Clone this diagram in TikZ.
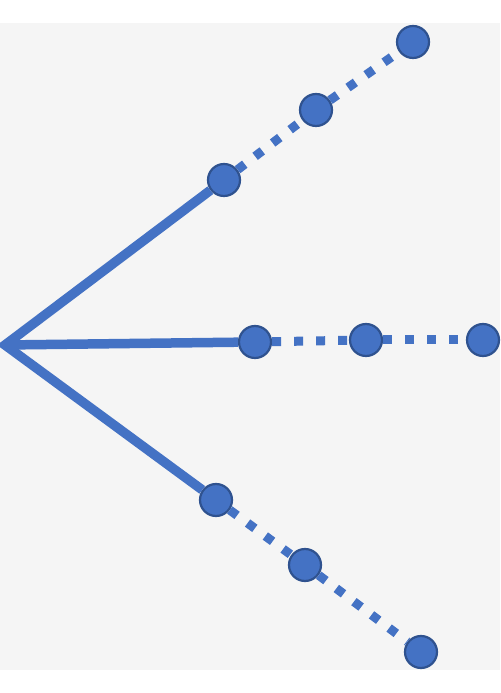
\documentclass[tikz,border=0pt]{standalone}
\begin{document}
\definecolor{nodeblue}{HTML}{4472C4}
\definecolor{rimblue}{HTML}{2F528F}
\begin{tikzpicture}[x=1pt,y=1pt,
  dotstyle/.style={circle,draw=rimblue,line width=2.2pt,fill=nodeblue,minimum size=32pt,inner sep=0pt},
  solidline/.style={nodeblue,line width=9.5pt,line join=miter},
  dotline/.style={nodeblue,line width=9pt,dash pattern=on 9pt off 13pt}]

\fill[white] (0,0) rectangle (500,693);
\fill[gray!8] (0,23) rectangle (500,670);

\coordinate (0) at (5,348);
\node[dotstyle] (1) at (224,513) {};
\node[dotstyle] (2) at (316,583) {};
\node[dotstyle] (3) at (413,651) {};

\node[dotstyle] (4) at (255,351) {};
\node[dotstyle] (5) at (366,353) {};
\node[dotstyle] (6) at (483,353) {};

\node[dotstyle] (7) at (216,193) {};
\node[dotstyle] (8) at (305,128) {};
\node[dotstyle] (9) at (421,41) {};

\draw[solidline] (1) -- (0) -- (7);
\draw[solidline] (0) -- (4);
\draw[dotline] (1) -- (2);
\draw[dotline] (2) -- (3);
\draw[dotline] (4) -- (5);
\draw[dotline] (5) -- (6);
\draw[dotline] (7) -- (8);
\draw[dotline] (8) -- (9);

\end{tikzpicture}
\end{document}
